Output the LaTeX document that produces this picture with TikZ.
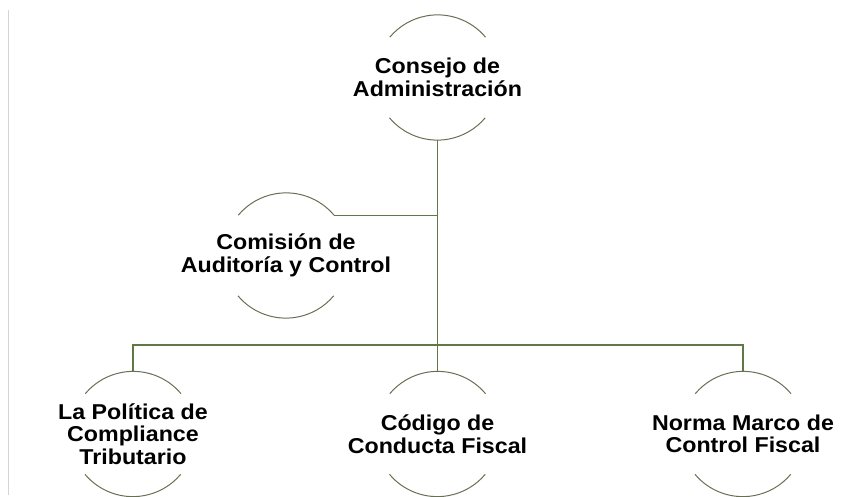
\documentclass[tikz,border=0pt]{standalone}
\usepackage{fontspec}
\setmainfont{Liberation Sans}
\definecolor{arcc}{RGB}{104,112,84}
\definecolor{connc}{RGB}{96,120,70}
\definecolor{edgec}{RGB}{212,212,212}
\begin{document}
\begin{tikzpicture}[x=1pt,y=1pt,
  arcline/.style={draw=arcc, line width=1pt},
  conn/.style={draw=connc, line width=1.3pt},
  lbl/.style={font=\bfseries\fontsize{21.5}{22.5}\selectfont, align=center, xscale=1.08, text=black, inner sep=0pt},
  ring/.style={circle, minimum size=125pt, inner sep=0pt}]
\useasboundingbox (0,0) rectangle (861,497);
\draw[edgec, line width=0.8pt] (8,2) -- (8,487);
% rings
\node[ring] (top) at (437.5,419.5) {};
\node[ring] (com) at (286,241.5) {};
\node[ring] (left) at (133,63) {};
\node[ring] (mid) at (437.5,63) {};
\node[ring] (right) at (743,63) {};
% arcs
\foreach \n in {top,com,left,mid,right}{
  \draw[arcline] (\n.40) arc[start angle=40,end angle=140,radius=62.5pt];
  \draw[arcline] (\n.220) arc[start angle=220,end angle=320,radius=62.5pt];
}
% labels
\node[lbl] (topT) at (top) {Consejo de\\Administración};
\node[lbl] (comT) at (com) {Comisión de\\Auditoría y Control};
\node[lbl] (leftT) at (left) {La Política de\\Compliance\\Tributario};
\node[lbl] (midT) at (mid) {Código de\\Conducta Fiscal};
\node[lbl] (rightT) at (right) {Norma Marco de\\Control Fiscal};
% connectors
\coordinate (bus) at (437.5,152);
\draw[conn] (top.south) -- (mid.north);
\draw[conn] (com.40) -- (com.40 -| top.south);
\draw[conn] (left.north) |- (bus) -| (right.north);
\end{tikzpicture}
\end{document}
